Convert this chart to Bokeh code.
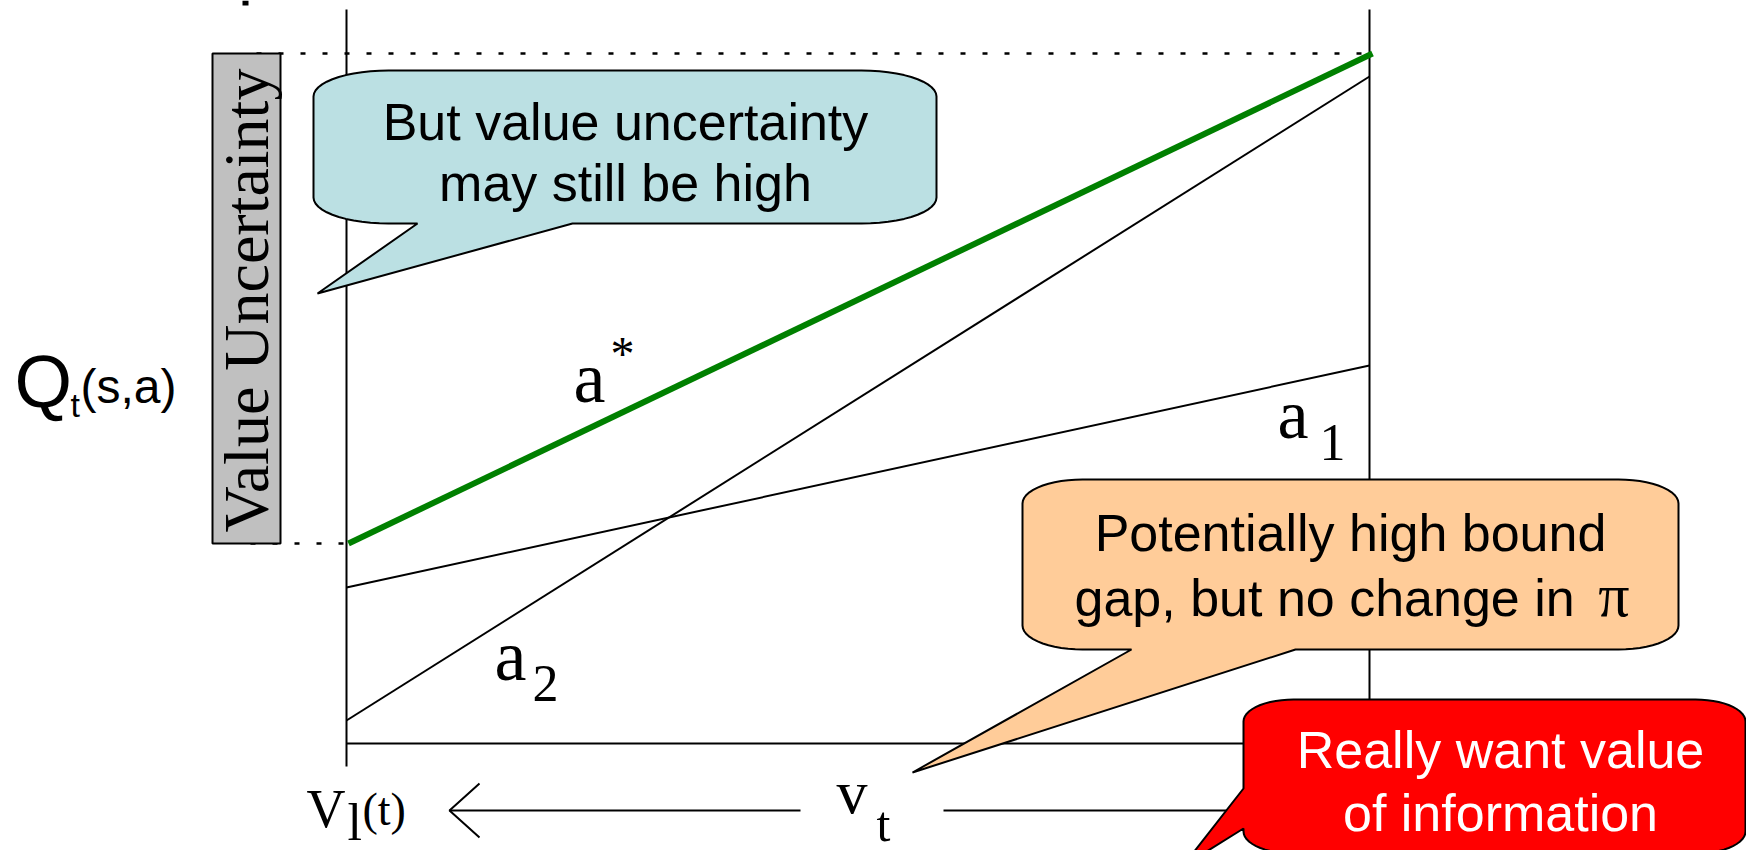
import numpy as np
from bokeh.plotting import figure
from bokeh.models import Range1d
from bokeh.core.properties import value
from bokeh.embed import file_html
from bokeh.resources import INLINE

# ---- data (reference pixel space: x to the right, y downward) ----
V_LOWER_X = 346          # x of V_l(t)
V_UPPER_X = 1369         # x of V_u(t)
AXIS_TOP = 9
AXIS_BOTTOM = 766
BASELINE_Y = 743         # horizontal axis
Q_ASTAR = [543, 53]      # Q at V_l, V_u for a*
Q_A1 = [587, 365]
Q_A2 = [720, 76]
UNCERT = [53, 543]       # value-uncertainty band (top, bottom)

SANS = "Liberation Sans"
SERIF = "Liberation Serif"
K = 0.30                 # baseline correction (em)

W, H = 1746, 850
p = figure(width=W, height=H, x_range=Range1d(0, W), y_range=Range1d(H, 0),
           output_backend="svg", toolbar_location=None,
           x_axis_location=None, y_axis_location=None, min_border=0)
p.grid.visible = False
p.outline_line_color = None
p.background_fill_color = "white"
p.border_fill_color = "white"


def txt(x, y, s, size, font, color="black", align="left", angle=0.0):
    if angle:
        x = x - K * size
    else:
        y = y - K * size
    p.text(x=[x], y=[y], text=[s], text_font=value(font),
           text_font_size=value(f"{size}px"), text_color=color,
           text_align=align, text_baseline="alphabetic", angle=angle)


def bubble(l, t, r, b, rx, ry, side, base, tip, n=14):
    xs, ys = [], []

    def arc(cx, cy, a0, a1):
        for th in np.radians(np.linspace(a0, a1, n)):
            xs.append(cx + rx * np.cos(th))
            ys.append(cy + ry * np.sin(th))

    arc(l + rx, t + ry, 180, 270)
    arc(r - rx, t + ry, 270, 360)
    arc(r - rx, b - ry, 0, 90)
    if side == "bottom":
        xs.extend([base[1], tip[0], base[0]])
        ys.extend([b, tip[1], b])
    arc(l + rx, b - ry, 90, 180)
    if side == "left":
        xs.extend([l, tip[0], l])
        ys.extend([base[1], tip[1], base[0]])
    return xs, ys


# small cut-off mark at the top
p.quad(left=[242], right=[248], top=[0], bottom=[5], fill_color="black", line_color=None)

# dotted guides for the uncertainty band
p.line([256, V_UPPER_X], [UNCERT[0], UNCERT[0]], line_color="black", line_width=2.5, line_dash="5 17")
p.line([250, V_LOWER_X], [UNCERT[1], UNCERT[1]], line_color="black", line_width=2.5, line_dash="5 17")

# grey "Value Uncertainty" box
p.quad(left=[212], right=[280], top=[UNCERT[0]], bottom=[UNCERT[1]],
       fill_color="#C0C0C0", line_color="black", line_width=2)
txt(265, 300, "Value Uncertainty", 64, SERIF, align="center", angle=np.pi / 2)

# axes
p.line([V_LOWER_X, V_LOWER_X], [AXIS_TOP, AXIS_BOTTOM], line_color="black", line_width=2)
p.line([V_UPPER_X, V_UPPER_X], [AXIS_TOP, AXIS_BOTTOM], line_color="black", line_width=2)
p.line([V_LOWER_X, V_UPPER_X], [BASELINE_Y, BASELINE_Y], line_color="black", line_width=2)

# action value lines
p.line([V_LOWER_X, V_UPPER_X], Q_A1, line_color="black", line_width=2)
p.line([V_LOWER_X, V_UPPER_X], Q_A2, line_color="black", line_width=2)
p.line([V_LOWER_X + 2, V_UPPER_X + 3], Q_ASTAR, line_color="#008000", line_width=6)

# y label Q_t(s,a)
txt(14, 403, "Q", 74, SANS)
txt(70, 415, "t", 34, SANS)
txt(80, 400, "(s,a)", 48, SANS)

# action labels
txt(573, 399, "a", 72, SERIF)
txt(610, 367, "*", 48, SERIF)
txt(1277, 435, "a", 70, SERIF)
txt(1319, 458, "1", 52, SERIF)
txt(494, 677, "a", 72, SERIF)
txt(532, 699, "2", 52, SERIF)

# bottom bound labels and arrows
txt(306, 825, "V", 54, SERIF)
txt(347, 838, "l", 52, SERIF)
txt(362, 823, "(t)", 46, SERIF)
p.line([449, 800], [810, 810], line_color="black", line_width=2)
p.line([479, 449, 479], [783, 810, 837], line_color="black", line_width=2)
txt(836, 810, "v", 62, SERIF)
txt(876, 838, "t", 50, SERIF)
p.line([943, 1300], [810, 810], line_color="black", line_width=2)
txt(1318, 820, "V", 54, SERIF)
txt(1352, 830, "u", 56, SERIF)
txt(1382, 818, "(t)", 46, SERIF)

# callout bubbles
bx, by = bubble(313, 70, 936, 223, 75, 26, "bottom", (417, 572), (317, 293))
p.patch(bx, by, fill_color="#BBE0E3", line_color="black", line_width=2)
txt(625, 137, "But value uncertainty", 52, SANS, align="center")
txt(625, 198, "may still be high", 52, SANS, align="center")

ox, oy = bubble(1022, 479, 1678, 649, 60, 24, "bottom", (1131, 1295), (912, 772))
p.patch(ox, oy, fill_color="#FFCC99", line_color="black", line_width=2)
txt(1350, 548, "Potentially high bound", 52, SANS, align="center")
txt(1074, 613, "gap, but no change in", 52, SANS, align="left")
txt(1629, 613, "\u03c0", 62, SERIF, align="right")

rx_, ry_ = bubble(1243, 699, 1745, 853, 50, 22, "left", (788, 828), (1182, 866))
p.patch(rx_, ry_, fill_color="#FF0000", line_color="black", line_width=2)
txt(1500, 765, "Really want value", 52, SANS, color="white", align="center")
txt(1500, 828, "of information", 52, SANS, color="white", align="center")

open("out.html", "w").write(file_html(p, INLINE))
